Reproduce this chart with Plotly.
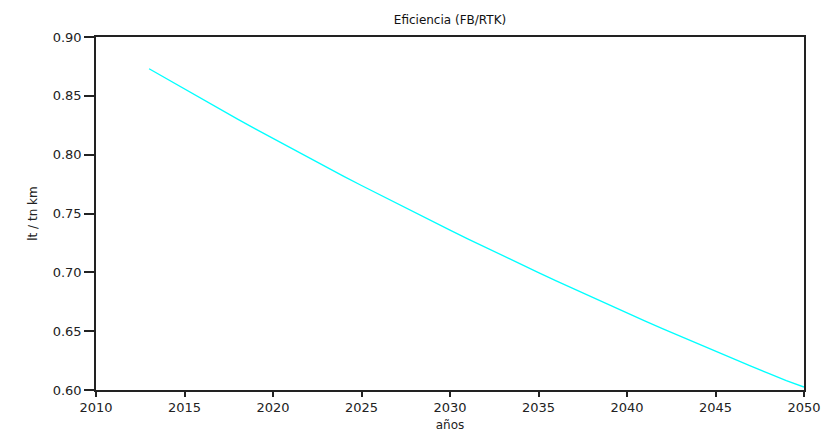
import plotly.graph_objects as go

# Fuel burn per revenue tonne-km, yearly projection
years = list(range(2013, 2051))
efficiency = [
    0.8730, 0.8643, 0.8556, 0.8471, 0.8386, 0.8302, 0.8219, 0.8137, 0.8055, 0.7975,
    0.7895, 0.7816, 0.7738, 0.7661, 0.7584, 0.7508, 0.7433, 0.7359, 0.7285, 0.7212,
    0.7140, 0.7069, 0.6998, 0.6928, 0.6859, 0.6790, 0.6722, 0.6655, 0.6588, 0.6522,
    0.6457, 0.6393, 0.6329, 0.6265, 0.6203, 0.6141, 0.6079, 0.6025,
]

x_ticks = [2010, 2015, 2020, 2025, 2030, 2035, 2040, 2045, 2050]
y_ticks = [0.60, 0.65, 0.70, 0.75, 0.80, 0.85, 0.90]

font_family = "DejaVu Sans"

fig = go.Figure(
    go.Scatter(
        x=years,
        y=efficiency,
        mode="lines",
        line=dict(color="#00FFFF", width=1.3),
        showlegend=False,
    )
)

fig.update_layout(
    width=837,
    height=440,
    margin=dict(l=96, r=33, t=37, b=50, autoexpand=False),
    paper_bgcolor="white",
    plot_bgcolor="white",
    font=dict(family=font_family, size=13, color="#222222"),
    title=dict(
        text="Eficiencia (FB/RTK)",
        x=450 / 837,
        xanchor="center",
        y=1 - 20 / 440,
        yanchor="middle",
        font=dict(family=font_family, size=12, color="#111111"),
    ),
)

fig.update_xaxes(
    range=[2010, 2050],
    tickvals=x_ticks,
    ticktext=[str(v) for v in x_ticks],
    ticks="outside",
    ticklen=5,
    tickwidth=1.5,
    tickcolor="#222222",
    showline=True,
    linecolor="#222222",
    linewidth=1.5,
    mirror=True,
    showgrid=False,
    zeroline=False,
    automargin=False,
    tickfont=dict(size=13),
    title=dict(text="años", font=dict(size=12), standoff=6),
)

fig.update_yaxes(
    range=[0.60, 0.90],
    tickvals=y_ticks,
    ticktext=[f"{v:.2f}" for v in y_ticks],
    ticks="outside",
    ticklen=10,
    tickwidth=1.5,
    tickcolor="#222222",
    showline=True,
    linecolor="#222222",
    linewidth=1.5,
    mirror=True,
    showgrid=False,
    zeroline=False,
    automargin=False,
    tickfont=dict(size=13),
    title=dict(text="lt / tn km", font=dict(size=12), standoff=12),
)

fig.write_html("out.html")
